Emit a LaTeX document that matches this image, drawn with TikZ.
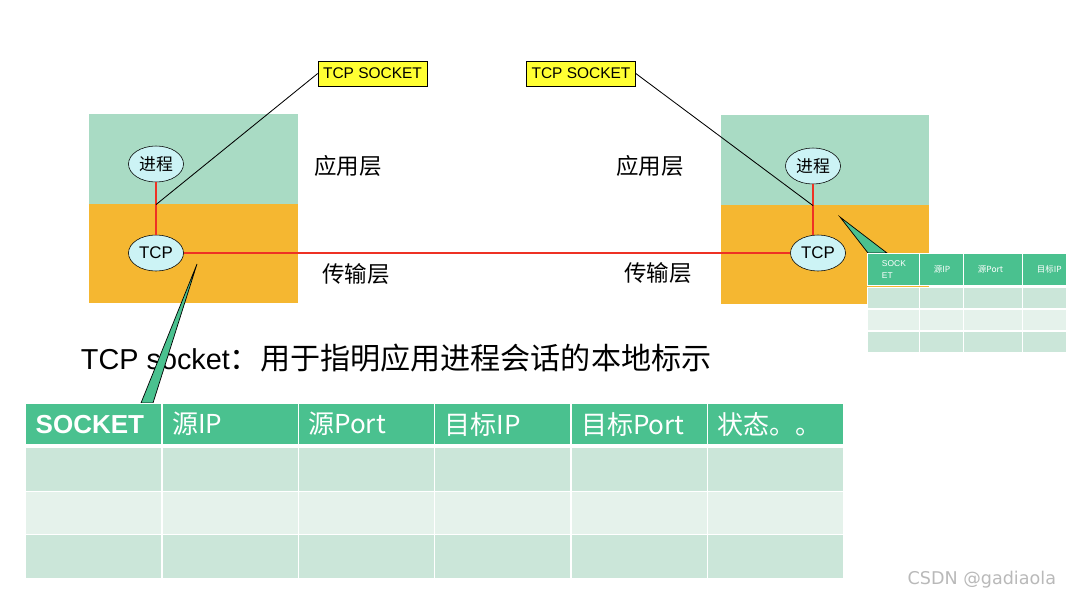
\documentclass[tikz,border=0pt]{standalone}
\usepackage{fontspec}
\setmainfont{Liberation Sans}
\newfontfamily\cjk{Noto Sans CJK SC}
\newfontfamily\markfont{DejaVu Sans}
\usetikzlibrary{shapes.geometric, positioning, calc}
\definecolor{appgreen}{HTML}{A9DBC4}
\definecolor{tcporange}{HTML}{F5B731}
\definecolor{bubble}{HTML}{CCF3F5}
\definecolor{tagyellow}{HTML}{FFFF33}
\definecolor{linkred}{HTML}{EE3124}
\definecolor{headgreen}{HTML}{4AC18F}
\definecolor{rowdark}{HTML}{CBE6D9}
\definecolor{rowlight}{HTML}{E5F2EB}

\begin{document}
\begin{tikzpicture}[
    x=0.025cm, y=-0.025cm,
    layer/.style={anchor=north west, inner sep=0, minimum width=5.225cm},
    proc/.style={ellipse, draw, fill=bubble, minimum width=1.375cm, minimum height=0.9cm, inner sep=0, font=\fontsize{12}{13}\selectfont},
    tag/.style={draw, fill=tagyellow, minimum width=2.725cm, minimum height=0.625cm, inner sep=0, font=\fontsize{11}{12}\selectfont},
    layername/.style={font=\cjk\fontsize{16}{18}\selectfont},
    link/.style={linkred, line width=1.6pt},
    pointer/.style={black, line width=0.6pt},
    callout/.style={fill=headgreen, draw=black, line width=0.5pt},
    head/.style={anchor=north west, fill=headgreen, draw=white, line width=1pt, minimum width=3.408cm, minimum height=1.025cm, inner xsep=0.25cm, text width=2.908cm, align=left, text=white, font=\fontsize{18.5}{20}\selectfont},
    cell/.style={anchor=north west, draw=white, line width=1pt, minimum width=3.408cm, minimum height=1.088cm, inner sep=0},
    minihead/.style={anchor=north west, fill=headgreen, draw=white, line width=0.8pt, minimum height=0.8cm, inner sep=0},
    minicell/.style={anchor=north west, draw=white, line width=0.8pt, minimum height=0.53cm, inner sep=0},
    minitext/.style={anchor=west, text=white, align=left, font=\fontsize{6}{8}\selectfont}
]
\useasboundingbox (0,0) rectangle (1066,600);

% Host A layers
\node[layer, fill=appgreen, minimum height=2.25cm] (appL) at (89,114) {};
\node[layer, fill=tcporange, minimum height=2.475cm] (transL) at (89,204) {};

% Host B layers
\node[layer, fill=appgreen, minimum height=2.25cm, minimum width=5.2cm] (appR) at (721,115) {};
\node[layer, fill=tcporange, minimum height=2.475cm, minimum width=5.2cm] (transR) at (721,205) {};

% Layer names
\node[layername] (appnameL) at (348,166) {应用层};
\node[layername] (transnameL) at (356,274) {传输层};
\node[layername] (appnameR) at (650,166) {应用层};
\node[layername] (transnameR) at (658,273) {传输层};

% Title line
\node[anchor=west, font=\fontsize{20.5}{23}\selectfont] (title) at (76,358) {TCP socket{\cjk\fontsize{21.4}{23}\selectfont ：用于指明应用进程会话的本地标示}};

% Callouts to the tables
\filldraw[callout] (197,264) -- (153,403) -- (141,403) -- cycle;
\filldraw[callout] (840,217) -- (887,253) -- (868,253) -- cycle;

% Processes and TCP entities
\node[proc] (procL) at (156,164) {\cjk 进程};
\node[proc] (tcpL) at (156,253) {TCP};
\node[proc] (procR) at (813,166) {\cjk 进程};
\node[proc] (tcpR) at (818,253) {TCP};

% Connections
\draw[link] (procL) -- (tcpL);
\draw[link] (procR.south) -- (procR.south |- tcpR.north);
\draw[link] (tcpL) -- (tcpR);

% Socket tags
\node[tag] (tagL) at (372.5,73.5) {TCP SOCKET};
\node[tag] (tagR) at (581,73.5) {TCP SOCKET};
\draw[pointer] (tagL.west) -- (procL |- appL.south);
\draw[pointer] (tagR.east) -- (procR.south |- appR.south);

% Socket table
\foreach \t [count=\i from 0] in {{\bfseries SOCKET}, {\cjk 源IP}, {\cjk 源Port}, {\cjk 目标IP}, {\cjk 目标Port}, {\cjk 状态。。}}
    \node[head] (h\i) at ({25+\i*136.33},403) {\t};
\foreach \r/\c in {1/rowdark, 2/rowlight, 3/rowdark}
    \foreach \i in {0,...,5}
        \node[cell, fill=\c] (c\r\i) at ({25+\i*136.33},{447+(\r-1)*43.5}) {};

% Small socket table
\foreach \x/\w/\t [count=\i] in {867/52/{SOCK\\ET}, 919/44/{\cjk 源IP}, 963/59/{\cjk 源Port}, 1022/46/{\cjk 目标IP}} {
    \node[minihead, minimum width=\w*0.025cm] (s\i) at (\x,253) {};
    \node[minitext] (st\i) at ([xshift=0.25cm]s\i.west) {\t};
    \node[minicell, fill=rowdark, minimum width=\w*0.025cm] (sa\i) at (\x,287) {};
    \node[minicell, fill=rowlight, minimum width=\w*0.025cm] (sb\i) at (\x,309) {};
    \node[minicell, fill=rowdark, minimum width=\w*0.025cm] (sc\i) at (\x,331) {};
}

% Watermark
\node[anchor=east, text=gray!55, font=\markfont\fontsize{12.5}{14}\selectfont] (mark) at (1061,580) {CSDN @gadiaola};

\end{tikzpicture}
\end{document}
